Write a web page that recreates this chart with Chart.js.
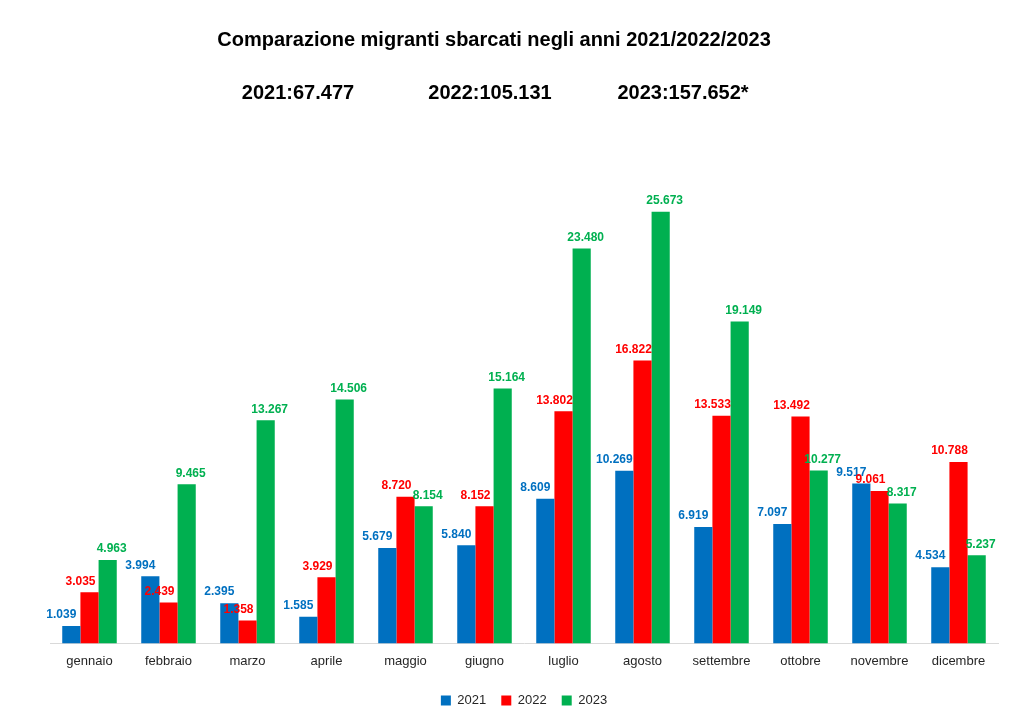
<!DOCTYPE html>
<html>
<head>
<meta charset="utf-8">
<script src="https://cdn.jsdelivr.net/npm/chart.js@4.4.0/dist/chart.umd.min.js"></script>
<style>
  html, body { margin: 0; padding: 0; background: #ffffff; }
  #wrap { width: 1020px; height: 721px; position: relative; }
</style>
</head>
<body>
<div id="wrap"><canvas id="c" width="1020" height="721"></canvas></div>
<script>
const months = ["gennaio","febbraio","marzo","aprile","maggio","giugno","luglio","agosto","settembre","ottobre","novembre","dicembre"];
const seriesNames = ["2021","2022","2023"];
const values2021 = [1039, 3994, 2395, 1585, 5679, 5840, 8609, 10269, 6919, 7097, 9517, 4534];
const values2022 = [3035, 2439, 1358, 3929, 8720, 8152, 13802, 16822, 13533, 13492, 9061, 10788];
const values2023 = [4963, 9465, 13267, 14506, 8154, 15164, 23480, 25673, 19149, 10277, 8317, 5237];
const totalsText = ["2021:67.477", "2022:105.131", "2023:157.652*"];
const titleText = "Comparazione migranti sbarcati negli anni 2021/2022/2023";

const colors = ["#0070C0", "#FF0000", "#00B050"];
const FONT = "'Liberation Sans', Arial, sans-serif";
const labelShift = [-10, -9, 4];

function fmt(v) {
  return v.toString().replace(/\B(?=(\d{3})+(?!\d))/g, ".");
}

const headerPlugin = {
  id: "header",
  afterDraw(chart) {
    const ctx = chart.ctx;
    ctx.save();
    ctx.fillStyle = "#000000";
    ctx.textAlign = "center";
    ctx.textBaseline = "middle";
    ctx.font = "bold 20px " + FONT;
    ctx.fillText(titleText, 494, 40);
    const xs = [298, 490, 683];
    totalsText.forEach((t, i) => ctx.fillText(t, xs[i], 93));
    ctx.restore();
  }
};

const labelsPlugin = {
  id: "valueLabels",
  afterDatasetsDraw(chart) {
    const ctx = chart.ctx;
    ctx.save();
    ctx.font = "bold 12px " + FONT;
    ctx.textAlign = "center";
    ctx.textBaseline = "middle";
    chart.data.datasets.forEach((ds, di) => {
      const meta = chart.getDatasetMeta(di);
      ctx.fillStyle = colors[di];
      meta.data.forEach((bar, i) => {
        ctx.fillText(fmt(ds.data[i]), bar.x + labelShift[di], bar.y - 11);
      });
    });
    ctx.restore();
  }
};

new Chart(document.getElementById("c"), {
  type: "bar",
  data: {
    labels: months,
    datasets: [
      { label: seriesNames[0], data: values2021, backgroundColor: colors[0] },
      { label: seriesNames[1], data: values2022, backgroundColor: colors[1] },
      { label: seriesNames[2], data: values2023, backgroundColor: colors[2] }
    ]
  },
  options: {
    responsive: false,
    animation: false,
    devicePixelRatio: 1,
    layout: { padding: { left: 50, right: 22, top: 139, bottom: 4 } },
    datasets: { bar: { barPercentage: 1, categoryPercentage: 0.69, borderWidth: 0 } },
    scales: {
      x: {
        grid: { display: false, drawTicks: false },
        border: { color: "#d9d9d9", width: 1 },
        ticks: { color: "#262626", font: { family: FONT, size: 13 }, padding: 10 }
      },
      y: {
        display: false,
        min: 0,
        max: 30000
      }
    },
    plugins: {
      title: { display: false },
      legend: {
        position: "bottom",
        labels: {
          color: "#262626",
          font: { family: FONT, size: 13 },
          boxWidth: 10,
          boxHeight: 10,
          padding: 15
        }
      },
      tooltip: { enabled: false }
    }
  },
  plugins: [headerPlugin, labelsPlugin]
});
</script>
</body>
</html>
